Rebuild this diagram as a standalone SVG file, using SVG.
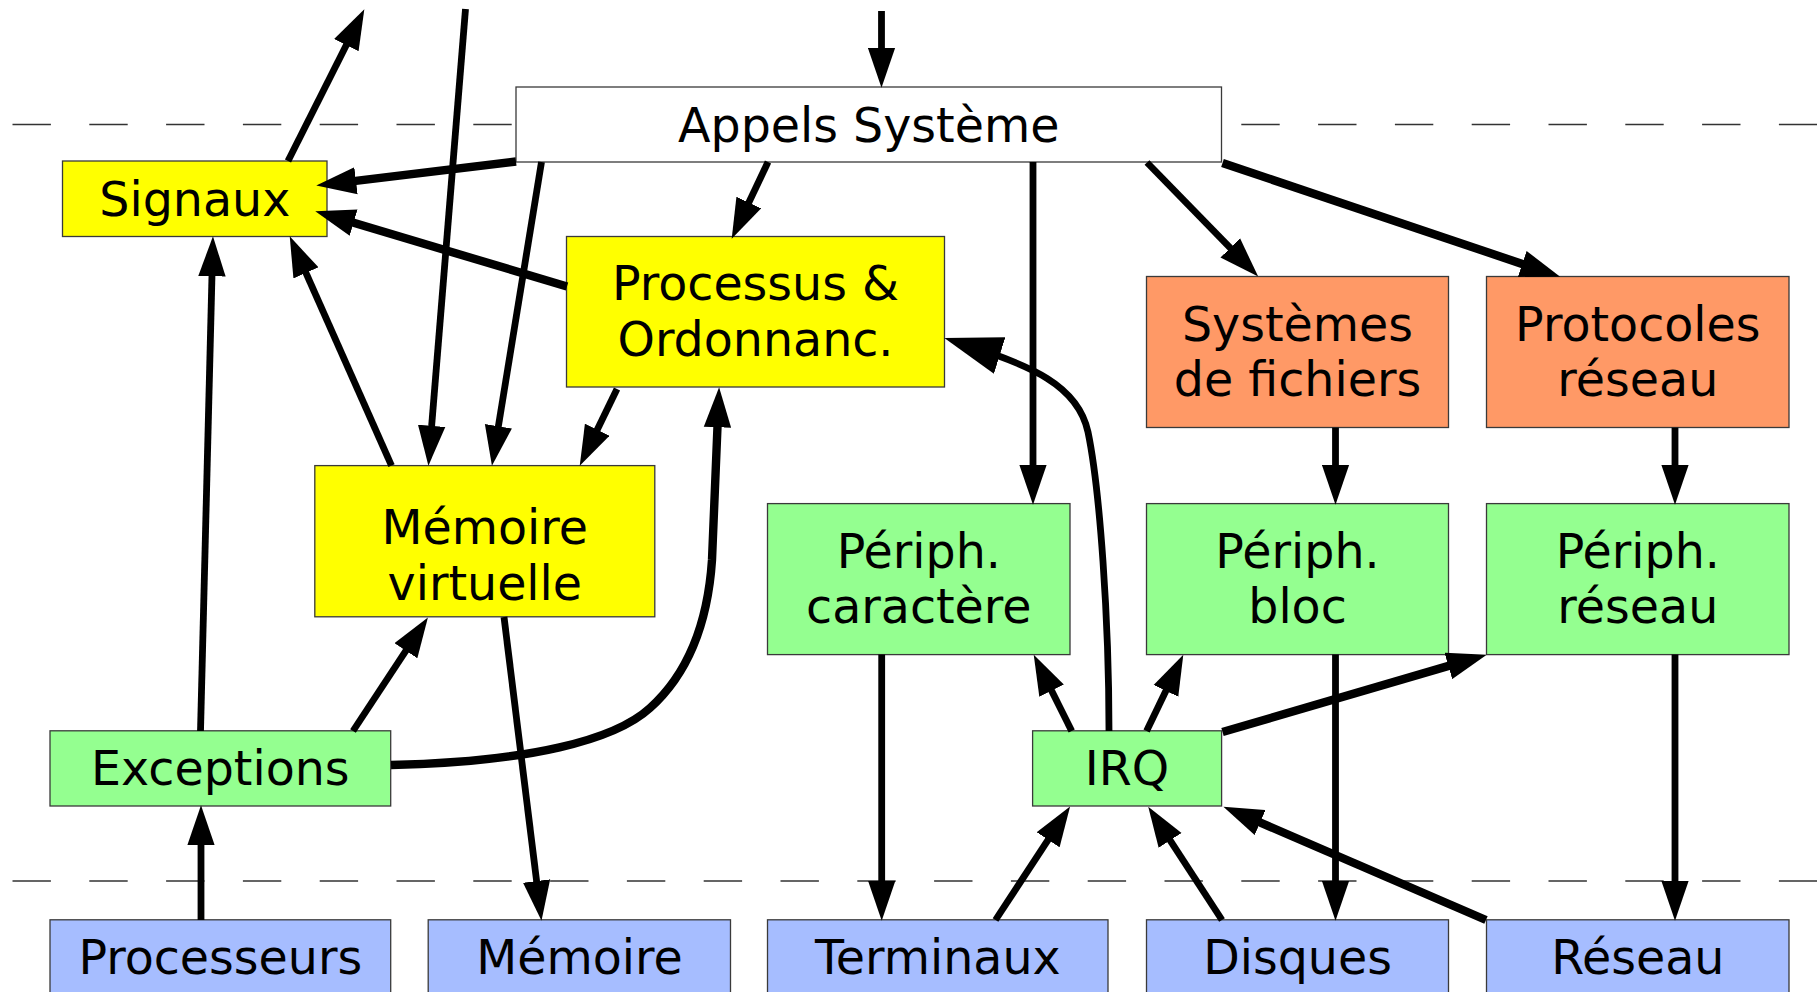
<svg xmlns="http://www.w3.org/2000/svg" width="1817" height="992" viewBox="0 0 1817 992">
<style>
.bx{stroke:#3a3a3a;stroke-width:1.3}
.w{fill:#ffffff}.y{fill:#ffff00}.o{fill:#ff9966}.g{fill:#94ff90}.b{fill:#a6bdff}
text{font-family:"DejaVu Sans","Liberation Sans",sans-serif;font-size:47.5px;fill:#000;text-anchor:middle}
.c{fill:none;stroke:#000;stroke-width:6.8;marker-end:url(#ah)}
.t{stroke-width:8.4}
.L{marker-end:url(#ahL)}
.d{fill:none;stroke:#333;stroke-width:1.5;stroke-dasharray:38.4 38.4}
</style>
<defs>
<marker id="ah" markerUnits="userSpaceOnUse" markerWidth="40" markerHeight="28" refX="24" refY="13" orient="auto" viewBox="0 0 38 26">
<path d="M0,0 L38,13 L0,26 Z" fill="#000"/>
</marker>
<marker id="ahL" markerUnits="userSpaceOnUse" markerWidth="58" markerHeight="39" refX="36" refY="18.5" orient="auto" viewBox="0 0 56 37">
<path d="M0,0 L56,18.5 L0,37 Z" fill="#000"/>
</marker>
</defs>
<rect width="1817" height="992" fill="#ffffff"/>
<g id="separators">
<line class="d" x1="12.5" y1="124.5" x2="1817" y2="124.5"/>
<line class="d" x1="12.5" y1="881" x2="1817" y2="881"/>
</g>
<g id="appels"><rect class="bx w" x="516" y="87" width="705.5" height="75"/><text x="868.7" y="141.5">Appels Système</text></g>
<g id="signaux"><rect class="bx y" x="62.5" y="161" width="264.5" height="75.5"/><text x="194.8" y="215.5">Signaux</text></g>
<g id="processus"><rect class="bx y" x="566.5" y="236.5" width="378" height="150.5"/><text x="755.5" y="300">Processus &amp;</text><text x="755.5" y="356">Ordonnanc.</text></g>
<g id="systemes"><rect class="bx o" x="1146.5" y="276.5" width="302" height="151"/><text x="1297.5" y="340.7">Systèmes</text><text x="1297.5" y="396">de fichiers</text></g>
<g id="protocoles"><rect class="bx o" x="1486.5" y="276.5" width="302.5" height="151"/><text x="1637.8" y="340.7">Protocoles</text><text x="1637.8" y="396">réseau</text></g>
<g id="memvirt"><rect class="bx y" x="314.8" y="465.6" width="340" height="151.2"/><text x="484.8" y="544">Mémoire</text><text x="484.8" y="599.5">virtuelle</text></g>
<g id="pcar"><rect class="bx g" x="767.5" y="503.6" width="302.5" height="151"/><text x="918.8" y="567.8">Périph.</text><text x="918.8" y="622.5">caractère</text></g>
<g id="pbloc"><rect class="bx g" x="1146.5" y="503.6" width="302" height="151"/><text x="1297.5" y="567.8">Périph.</text><text x="1297.5" y="622.5">bloc</text></g>
<g id="preseau"><rect class="bx g" x="1486.5" y="503.6" width="302.5" height="151"/><text x="1637.8" y="567.8">Périph.</text><text x="1637.8" y="622.5">réseau</text></g>
<g id="exceptions"><rect class="bx g" x="50" y="730.8" width="340.7" height="75.2"/><text x="220.3" y="784.8">Exceptions</text></g>
<g id="irq"><rect class="bx g" x="1032.6" y="730.8" width="189" height="75.2"/><text x="1127" y="784.8">IRQ</text></g>
<g id="processeurs"><rect class="bx b" x="50" y="919.8" width="340.7" height="75.2"/><text x="220.3" y="973.8">Processeurs</text></g>
<g id="memoire"><rect class="bx b" x="428.2" y="919.8" width="302.3" height="75.2"/><text x="579.4" y="973.8">Mémoire</text></g>
<g id="terminaux"><rect class="bx b" x="767.5" y="919.8" width="340.5" height="75.2"/><text x="937.8" y="973.8">Terminaux</text></g>
<g id="disques"><rect class="bx b" x="1146.5" y="919.8" width="302" height="75.2"/><text x="1297.5" y="973.8">Disques</text></g>
<g id="reseau"><rect class="bx b" x="1486.5" y="919.8" width="302.5" height="75.2"/><text x="1637.8" y="973.8">Réseau</text></g>
<g id="connectors">
<path class="c" d="M288,161 L357.7,22.5"/>
<path class="c" d="M465.5,9 L429.6,451"/>
<path class="c" d="M881.5,11 L881.5,73"/>
<path class="c t" d="M516,161.5 L330.9,183.8"/>
<path class="c t" d="M567,286.5 L329.4,215.5"/>
<path class="c" d="M541.5,162 L494.3,451.2"/>
<path class="c" d="M768,162 L738,225.4"/>
<path class="c" d="M617,389 L586.2,452.4"/>
<path class="c" d="M391.5,465.6 L295.7,249.8"/>
<path class="c" d="M200.5,731 L212.6,251"/>
<path class="c" d="M353,731 L419.8,629.7"/>
<path class="c t" d="M391,765 C530,762 615,740 650,708 C690,672 708,620 712,560 L718.5,402"/>
<path class="c L" d="M1109,731 C1109,620 1100,490 1088,432 C1078,385 1030,365 964.1,344.3"/>
<path class="c" d="M1033,162 L1033,490"/>
<path class="c" d="M1147,162.5 L1247.9,266"/>
<path class="c t" d="M1222.5,163 L1546.2,272"/>
<path class="c" d="M1335.5,427.6 L1335.5,490"/>
<path class="c" d="M1675,427.6 L1675,490"/>
<path class="c" d="M881.7,654.6 L881.7,906"/>
<path class="c" d="M1335.5,654.6 L1335.5,906"/>
<path class="c" d="M1675,654.6 L1675,906"/>
<path class="c" d="M1071.7,731 L1040.3,668"/>
<path class="c" d="M1146.6,731 L1176.9,668.1"/>
<path class="c t" d="M1222.5,732 L1472.6,658.9"/>
<path class="c" d="M995.5,920 L1062,818.7"/>
<path class="c" d="M1222,920 L1156.3,819.2"/>
<path class="c t" d="M1486,920 L1236.9,812.5"/>
<path class="c" d="M201,920 L201,820"/>
<path class="c" d="M504,617 L539.7,906.1"/>
</g>
</svg>
